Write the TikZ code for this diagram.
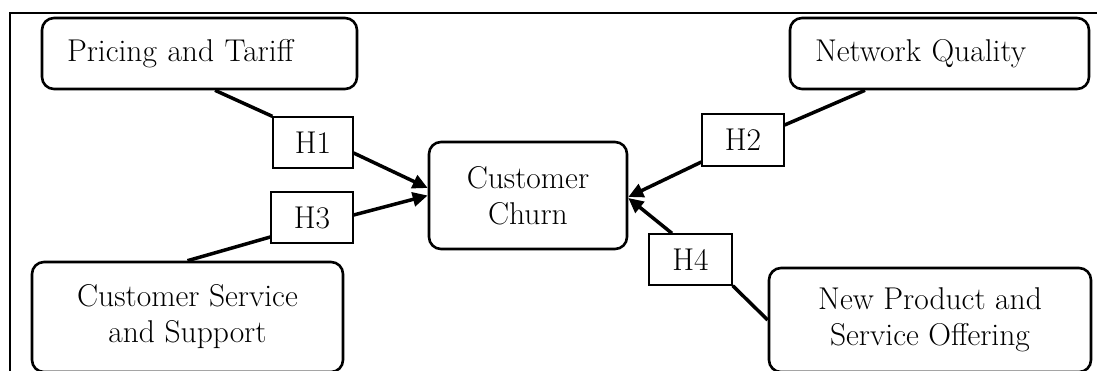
\documentclass[tikz,border=0pt]{standalone}
\usepackage{fontspec}
\usetikzlibrary{arrows.meta}
\begin{document}
\begin{tikzpicture}[x=1pt,y=-1pt,
  txt/.style={font=\fontsize{31.5}{36}\selectfont},
  box/.style={draw, line width=2.6pt, rounded corners=12pt, inner sep=0pt, align=center, txt},
  hbox/.style={draw, line width=1.3pt, inner sep=0pt, txt},
  link/.style={line width=3.5pt},
  arr/.style={line width=3.5pt, -{Triangle[length=15pt,width=14pt]}}]
\useasboundingbox (0,0) rectangle (1097,371);
% frame
\draw[line width=1.6pt] (10,371) -- (10,13) -- (1097,13);
% factor boxes
\node[box, text width=265pt, inner xsep=25pt, minimum height=71pt, align=left] (pricing) at (199.5,53.5) {Pricing and Tariff};
\node[box, text width=249pt, inner xsep=25pt, minimum height=71pt, align=left] (network) at (939.5,53.5) {Network Quality};
\node[box, minimum width=198pt, minimum height=107pt] (churn) at (528,195.5) {Customer\\Churn};
\node[box, minimum width=311pt, minimum height=110pt] (service) at (187.5,317) {Customer Service\\and Support};
\node[box, minimum width=322pt, minimum height=104pt] (product) at (930,320) {New Product and\\Service Offering};
% hypothesis boxes
\node[hbox, minimum width=80pt, minimum height=51pt] (h1) at (313,142.5) {H1};
\node[hbox, minimum width=82pt, minimum height=51pt] (h3) at (312,217.5) {H3};
\node[hbox, minimum width=82pt, minimum height=52pt] (h2) at (743,140) {H2};
\node[hbox, minimum width=83pt, minimum height=51pt] (h4) at (690.5,259.5) {H4};
% connectors
\draw[link] ([xshift=15.5pt]pricing.south) -- (h1.north west);
\draw[arr] ([yshift=-10.5pt]h1.east) -- ([yshift=7.5pt]churn.west);
\draw[link] (service.north) -- ([yshift=-19.5pt]h3.west);
\draw[arr] ([yshift=2.5pt]h3.east) -- (churn.west);
\draw[link] ([xshift=-74.5pt]network.south) -- ([yshift=15pt]h2.east);
\draw[arr] ([yshift=-22pt]h2.west) -- ([yshift=-1.5pt]churn.east);
\draw[link] (product.west) -- (h4.south east);
\draw[arr] ([xshift=-18.5pt]h4.north) -- ([yshift=-2.5pt]churn.east);
\end{tikzpicture}
\end{document}
